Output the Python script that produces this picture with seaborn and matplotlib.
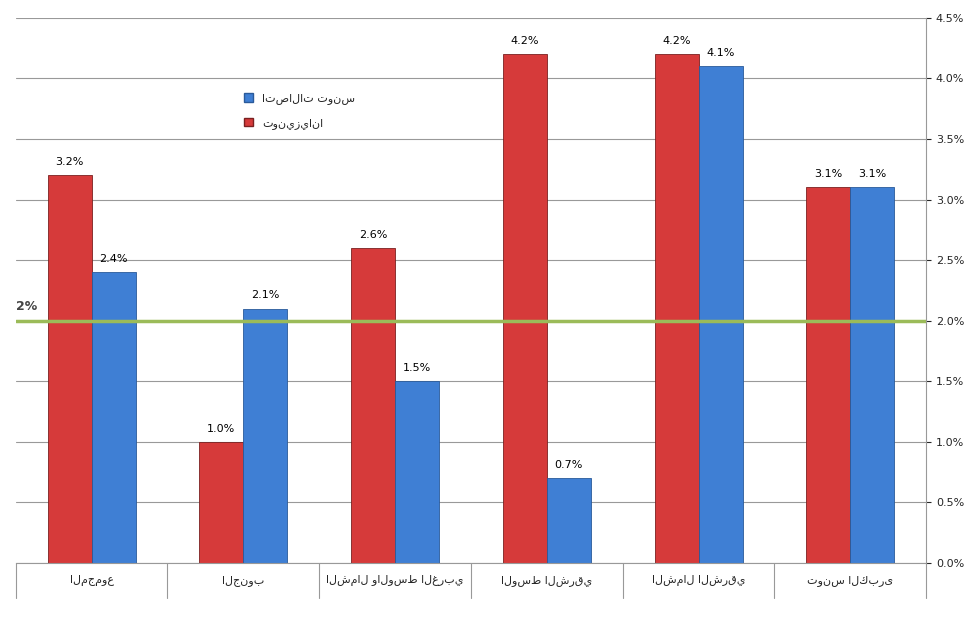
import matplotlib
matplotlib.use("Agg")
import matplotlib.pyplot as plt
import numpy as np
import pandas as pd
import seaborn as sns
from matplotlib.patches import Patch

regions = ["المجموع", "الجنوب", "الشمال والوسط الغربي", "الوسط الشرقي", "الشمال الشرقي", "تونس الكبرى"]
tunisiana = [3.2, 1.0, 2.6, 4.2, 4.2, 3.1]
tunisie_telecom = [2.4, 2.1, 1.5, 0.7, 4.1, 3.1]
series_names = ["تونيزيانا", "اتصالات تونس"]
colors = ["#d63a3a", "#3f7fd4"]
threshold = 2.0

df = pd.DataFrame({
    "region": regions * 2,
    "value": tunisiana + tunisie_telecom,
    "op": [series_names[0]] * 6 + [series_names[1]] * 6,
})

sns.set_style("white")
plt.rcParams["font.family"] = ["DejaVu Sans"]
fig = plt.figure(figsize=(9.79, 6.17), dpi=100)
ax = fig.add_axes([0.016, 0.0875, 0.93, 0.8835])

sns.barplot(data=df, x="region", y="value", hue="op", palette=colors, saturation=1,
            width=0.58, gap=0, ax=ax, linewidth=0.6, legend=False)
for bar, c in zip(ax.patches, [colors[0]] * 6 + [colors[1]] * 6):
    bar.set_edgecolor("#7a2020" if c == colors[0] else "#2a5a9a")

for cont in ax.containers:
    ax.bar_label(cont, labels=[f"{v:.1f}%" for v in cont.datavalues], padding=6,
                 fontsize=8, color="black")

ax.axhline(threshold, color="#9bbb59", lw=2.5, zorder=5)
ax.text(0.0, threshold + 0.06, "2%", transform=ax.get_yaxis_transform(),
        fontsize=9, fontweight="bold", color="#444444", ha="left", va="bottom")

ax.set_ylim(0, 4.5)
ax.set_xlim(-0.5, 5.5)
ax.set_yticks(np.arange(0, 4.51, 0.5))
ax.set_yticklabels([f"{t:.1f}%" for t in np.arange(0, 4.51, 0.5)], fontsize=8)
ax.yaxis.tick_right()
ax.grid(axis="y", color="#999999", lw=0.8)
ax.set_axisbelow(True)
for s in ["top", "left"]:
    ax.spines[s].set_visible(False)
ax.spines["right"].set_color("#999999")
ax.spines["bottom"].set_color("#999999")
ax.set_xlabel("")
ax.set_ylabel("")
ax.set_xticks([])

# category table below the axis
tab_h = 0.064
for i in range(7):
    ax.plot([i / 6, i / 6], [0, -tab_h], transform=ax.transAxes, color="#999999", lw=0.8, clip_on=False)
for i, r in enumerate(regions):
    ax.text((i + 0.5) / 6, -tab_h / 2, r, transform=ax.transAxes, ha="center", va="center", fontsize=8)

handles = [Patch(facecolor=colors[1], edgecolor="#2a5a9a", label=series_names[1]),
           Patch(facecolor=colors[0], edgecolor="#7a2020", label=series_names[0])]
ax.legend(handles=handles, loc="upper left", bbox_to_anchor=(0.24, 0.88), frameon=False,
          fontsize=8, handlelength=0.8, handleheight=0.8, labelspacing=1.2)

fig.savefig("out.png", dpi=100)
